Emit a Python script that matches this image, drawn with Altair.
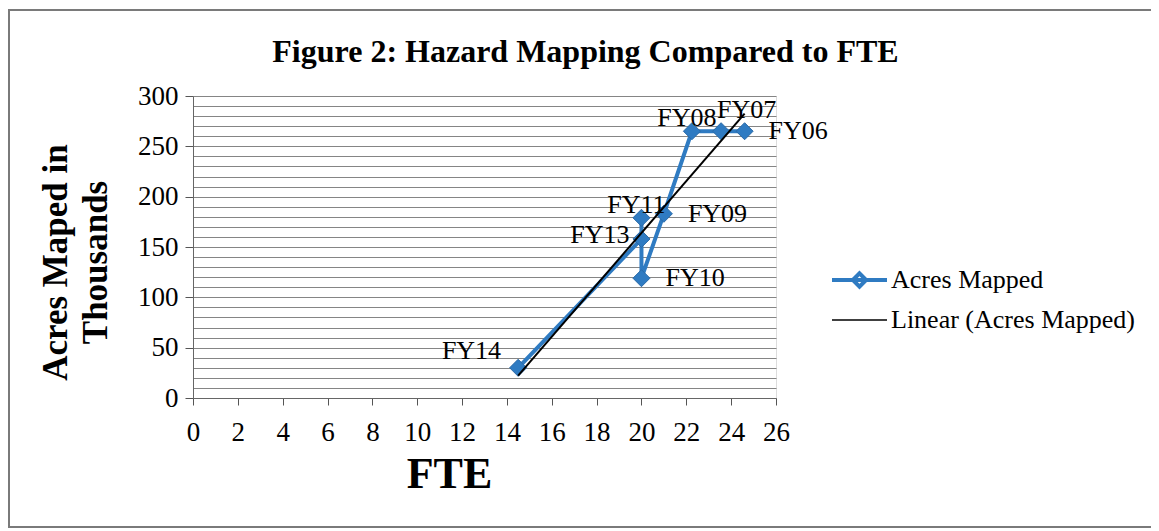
import altair as alt
import pandas as pd

# ---- data ----
years = ["FY06", "FY07", "FY08", "FY09", "FY10", "FY11", "FY13", "FY14"]
fte = [24.6, 23.55, 22.25, 21.0, 20.0, 20.0, 20.0, 14.5]
acres = [265, 265, 265, 183, 119, 179, 158, 30]
label_side = ["right", "upper right", "above", "right", "right", "above", "left", "upper left"]
series = ["Acres Mapped", "Linear (Acres Mapped)"]
x_ticks = list(range(0, 27, 2))
y_grid = list(range(0, 301, 10))

BLUE = "#2f7bc2"
FONT = "Liberation Serif"

df = pd.DataFrame({
    "year": years, "fte": fte, "acres": acres,
    "side": label_side, "order": list(range(len(years))),
})

X = alt.X("fte:Q",
          scale=alt.Scale(domain=[0, 26], nice=False, zero=False),
          axis=alt.Axis(values=x_ticks, grid=False, title="FTE",
                        titleFont=FONT, titleFontSize=44, titleFontWeight="bold",
                        titleColor="black", titleX=256, titleY=54,
                        labelFont=FONT, labelFontSize=27, labelColor="black",
                        labelPadding=14, tickSize=7, tickColor="#555",
                        domainColor="#666", labelFlush=False))
Y = alt.Y("acres:Q",
          scale=alt.Scale(domain=[0, 300], nice=False),
          axis=alt.Axis(values=y_grid, grid=True, gridColor="#858585", gridWidth=1.2,
                        labelExpr="datum.value % 50 === 0 ? datum.label : ''",
                        labelOverlap=False, labelFlush=False,
                        tickOpacity={"condition": {"test": "datum.value % 50 === 0", "value": 1}, "value": 0},
                        title=["Acres Maped in", "Thousands"],
                        titleFont=FONT, titleFontSize=35, titleFontWeight="bold",
                        titleColor="black", titleLineHeight=40, titlePadding=24,
                        titleY=166,
                        labelFont=FONT, labelFontSize=27, labelColor="black",
                        labelPadding=7, tickSize=8, tickColor="#555",
                        domainColor="#666"))

base = alt.Chart(df)

line = base.mark_line(color=BLUE, strokeWidth=4).encode(x=X, y=Y, order="order:Q")
points = base.mark_point(shape="diamond", filled=True, size=290, color=BLUE,
                         opacity=1, stroke="#2a6aa8", strokeWidth=1).encode(x=X, y=Y)
trend = base.transform_regression("fte", "acres").mark_line(
    color="black", strokeWidth=2).encode(x=X, y=Y)

def labels(side, align, dx, dy):
    return base.transform_filter(alt.datum.side == side).mark_text(
        align=align, baseline="middle", dx=dx, dy=dy, font=FONT, fontSize=26,
        color="black").encode(x=X, y=Y, text="year:N")

txt = [
    labels("right", "left", 24, 0),
    labels("upper right", "left", -4, -21),
    labels("above", "center", -5, -13),
    labels("left", "right", -12, -4),
    labels("upper left", "right", -17, -17),
]

path_data = "M-1,0L1,0M-0.24,0L0,-0.24L0.24,0L0,0.24Z"
path_trend = "M-1,0L1,0"
legend_df = pd.DataFrame({"series": series})
leg = alt.Legend(title=None, orient="none", legendX=637, legendY=169,
                 symbolSize=3025, labelFont=FONT, labelFontSize=26,
                 labelColor="black", labelOffset=2, clipHeight=30, labelLimit=400,
                 rowPadding=10, symbolOpacity=1, symbolFillColor=BLUE)
legend_layer = alt.Chart(legend_df).mark_point(filled=False, opacity=0).encode(
    x=alt.value(0), y=alt.value(0),
    color=alt.Color("series:N", scale=alt.Scale(domain=series, range=[BLUE, "black"]), legend=leg),
    shape=alt.Shape("series:N", scale=alt.Scale(domain=series, range=[path_data, path_trend]), legend=leg),
    strokeWidth=alt.StrokeWidth("series:N", scale=alt.Scale(domain=series, range=[4, 1.6]), legend=leg),
)

frame = alt.Chart(pd.DataFrame({"f": [0]})).mark_rect(
    filled=False, stroke="#7a7a7a", strokeWidth=2).encode(
    x=alt.value(-184), x2=alt.value(1000), y=alt.value(-86), y2=alt.value(431))

chart = alt.layer(frame, line, points, trend, *txt, legend_layer).properties(
    width=583, height=302,
    title=alt.TitleParams("Figure 2: Hazard Mapping Compared to FTE", font=FONT,
                          fontSize=32, fontWeight="bold", color="black",
                          anchor="middle", dx=101, offset=26, dy=86),
    autosize=alt.AutoSizeParams(type="none"),
    padding={"left": 185, "top": 88, "right": 375, "bottom": 131},
).configure_view(stroke=None).configure(background="white")

chart.save("out.html", embed_options={"renderer": "svg", "actions": False})
